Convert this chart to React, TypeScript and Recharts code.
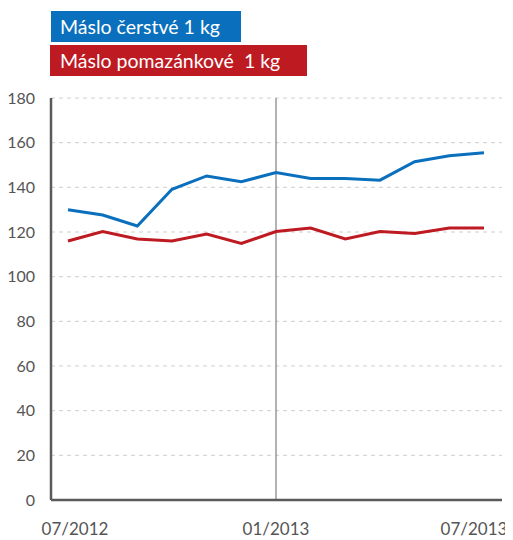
import React from "react";
import { LineChart, Line, XAxis, YAxis, CartesianGrid, ReferenceLine } from "recharts";

const months = ["07/2012","08/2012","09/2012","10/2012","11/2012","12/2012","01/2013","02/2013","03/2013","04/2013","05/2013","06/2013","07/2013"];
const cerstve = [130, 127.6, 122.7, 139.1, 145.1, 142.5, 146.6, 144.0, 143.9, 143.2, 151.5, 154.1, 155.5];
const pomazankove = [116.0, 120.2, 116.9, 116.0, 119.1, 114.9, 120.2, 121.8, 116.9, 120.2, 119.3, 121.8, 121.8];
const shownTicks = ["07/2012", "01/2013", "07/2013"];
const yTicks = [0, 20, 40, 60, 80, 100, 120, 140, 160, 180];
const seriesNames = ["Máslo čerstvé 1 kg", "Máslo pomazánkové  1 kg"];

const data = months.map((m, i) => ({ m, a: cerstve[i], b: pomazankove[i] }));

const BLUE = "#0a70bd";
const RED = "#be1a21";
const FONT = "Lato, 'Open Sans', sans-serif";

const XTick = (props: any) => {
  const { x, y, payload } = props;
  const v = payload.value;
  let dx = 0;
  if (v === "07/2012") dx = 7;
  if (v === "07/2013") dx = -10;
  return (
    <text x={x + dx} y={y + 35} textAnchor="middle" fill="#555" fontSize={17} fontFamily={FONT}>
      {v}
    </text>
  );
};

export default function App() {
  return (
    <div style={{ position: "relative", width: 505, height: 532, background: "#fff" }}>
      <div style={{ position: "absolute", left: 43, top: 3, width: 190, height: 31, background: BLUE, color: "#fff", fontFamily: FONT, fontSize: 19.5, lineHeight: "31px", paddingLeft: 9, boxSizing: "border-box", whiteSpace: "pre" }}>
        {seriesNames[0]}
      </div>
      <div style={{ position: "absolute", left: 42, top: 37, width: 257, height: 31, background: RED, color: "#fff", fontFamily: FONT, fontSize: 19.5, lineHeight: "31px", paddingLeft: 10, boxSizing: "border-box", whiteSpace: "pre" }}>
        {seriesNames[1]}
      </div>
      <div style={{ position: "absolute", left: 0, top: 0 }}>
        <LineChart width={505} height={532} data={data} margin={{ top: 90, right: 11, bottom: 0, left: 0 }} style={{ overflow: "visible" }}>
          <CartesianGrid vertical={false} stroke="#cfcfcf" strokeDasharray="4 4" />
          <XAxis
            dataKey="m"
            ticks={shownTicks}
            interval={0}
            padding={{ left: 17, right: 18 }}
            height={40}
            tickSize={0}
            tickMargin={0}
            tick={<XTick />}
            axisLine={{ stroke: "#5a5a5a", strokeWidth: 2.5 }}
          />
          <YAxis
            domain={[0, 180]}
            ticks={yTicks}
            width={43}
            tickSize={0}
            tickMargin={16}
            tick={{ fill: "#555", fontSize: 16, fontFamily: FONT }}
            axisLine={{ stroke: "#5a5a5a", strokeWidth: 2.5 }}
          />
          <ReferenceLine x="01/2013" stroke="#999" strokeWidth={1.5} />
          <Line type="linear" dataKey="a" stroke={BLUE} strokeWidth={3} dot={false} isAnimationActive={false} />
          <Line type="linear" dataKey="b" stroke={RED} strokeWidth={3} dot={false} isAnimationActive={false} />
        </LineChart>
      </div>
    </div>
  );
}
